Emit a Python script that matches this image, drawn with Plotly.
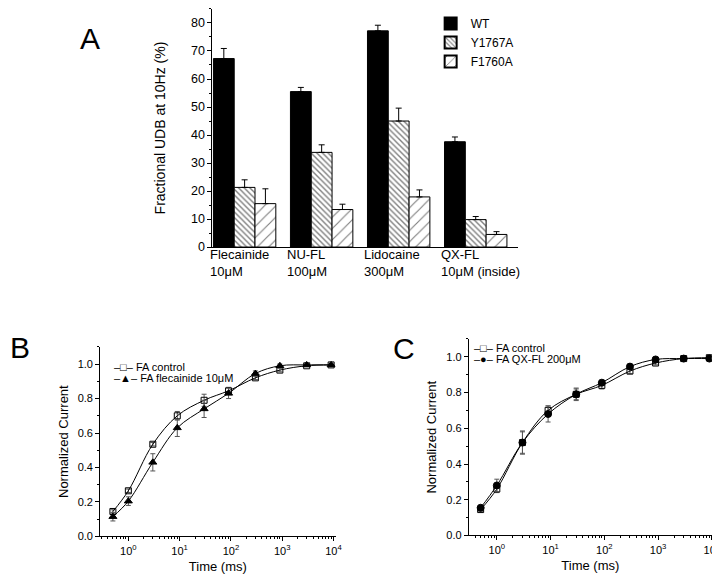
import plotly.graph_objects as go

FONT = "Arial, Liberation Sans, sans-serif"

# ---------------- Panel A data ----------------
drugs = ["Flecainide", "NU-FL", "Lidocaine", "QX-FL"]
drug_labels = ["Flecainide<br>10μM", "NU-FL<br>100μM", "Lidocaine<br>300μM", "QX-FL<br>10μM (inside)"]
wt = [67.3, 55.5, 77.2, 37.6]
wt_err = [3.6, 1.5, 2.0, 1.7]
y1767a = [21.3, 33.8, 45.0, 9.8]
y1767a_err = [2.7, 2.7, 4.6, 1.1]
f1760a = [15.5, 13.4, 17.9, 4.5]
f1760a_err = [5.3, 1.9, 2.5, 1.0]

# ---------------- Panel B/C data ----------------
time_ms = [0.5, 1, 3, 9, 30, 90, 300, 900, 3000, 9000]
b_control = [0.145, 0.265, 0.535, 0.70, 0.79, 0.845, 0.92, 0.965, 0.99, 0.995]
b_control_err = [0.01, 0.01, 0.01, 0.025, 0.035, 0.02, 0.01, 0.01, 0.005, 0.005]
b_flec = [0.115, 0.205, 0.43, 0.63, 0.74, 0.83, 0.945, 0.99, 0.995, 0.995]
b_flec_err = [0.025, 0.025, 0.05, 0.05, 0.05, 0.03, 0.015, 0.01, 0.01, 0.01]
c_control = [0.145, 0.26, 0.52, 0.70, 0.79, 0.84, 0.92, 0.965, 0.99, 0.995]
c_control_err = [0.012, 0.02, 0.065, 0.025, 0.035, 0.02, 0.015, 0.01, 0.005, 0.01]
c_qx = [0.155, 0.28, 0.52, 0.68, 0.79, 0.855, 0.945, 0.985, 0.99, 0.99]
c_qx_err = [0.012, 0.035, 0.06, 0.045, 0.03, 0.015, 0.015, 0.008, 0.005, 0.008]

log_tickvals = [1, 10, 100, 1000, 10000]
log_ticktext = ["10<sup>0</sup>", "10<sup>1</sup>", "10<sup>2</sup>", "10<sup>3</sup>", "10<sup>4</sup>"]

legend_b = ["–□– FA control", "–▲– FA flecainide 10μM"]
legend_c = ["–□– FA control", "–●– FA QX-FL 200μM"]

fig = go.Figure()

def bar(name, vals, errs, color, pattern=None):
    kw = dict(
        name=name, x=drugs, y=vals, xaxis="x", yaxis="y", legend="legend",
        marker=dict(color=color, line=dict(color="black", width=1)),
        error_y=dict(type="data", symmetric=False, array=errs,
                     arrayminus=[0] * len(errs), color="black", thickness=1, width=3),
    )
    if pattern:
        kw["marker"]["pattern"] = pattern
    fig.add_trace(go.Bar(**kw))

bar("WT", wt, wt_err, "black")
bar("Y1767A", y1767a, y1767a_err, "white",
    dict(shape="\\", fgcolor="black", bgcolor="white", size=4, solidity=0.35))
bar("F1760A", f1760a, f1760a_err, "white",
    dict(shape="/", fgcolor="black", bgcolor="white", size=8, solidity=0.14))

def curve(name, y, err, symbol, xa, ya):
    fig.add_trace(go.Scatter(
        name=name, x=time_ms, y=y, xaxis=xa, yaxis=ya, showlegend=False,
        mode="lines+markers",
        line=dict(color="black", width=1, shape="spline", smoothing=1),
        marker=dict(symbol=symbol, size=6 if "square" in symbol else 7, color="black",
                    line=dict(color="black", width=1)),
        error_y=dict(type="data", array=err, color="#555555", thickness=1, width=2.5),
    ))

curve("FA control", b_control, b_control_err, "square-open", "x2", "y2")
curve("FA flecainide 10μM", b_flec, b_flec_err, "triangle-up", "x2", "y2")
curve("FA control", c_control, c_control_err, "square-open", "x3", "y3")
curve("FA QX-FL 200μM", c_qx, c_qx_err, "circle", "x3", "y3")

minor_log = [m * 10 ** e for e in range(-1, 4) for m in range(2, 10)]

axis_common = dict(showline=True, linecolor="black", linewidth=1, ticks="outside",
                   tickcolor="black", showgrid=False, zeroline=False, mirror=False,
                   tickfont=dict(family=FONT, size=11, color="black"))

fig.update_layout(
    width=720, height=574,
    margin=dict(l=0, r=0, t=0, b=0),
    paper_bgcolor="white", plot_bgcolor="white",
    font=dict(family=FONT, color="black"),
    barmode="group", bargap=0.19, bargroupgap=0,
    showlegend=True,
    xaxis=dict(domain=[207 / 720, 516 / 720], anchor="y", type="category",
               range=[-0.418, 3.543], showline=True, linecolor="black", linewidth=1,
               showticklabels=False, ticks="", showgrid=False, zeroline=False),
    yaxis=dict(domain=[1 - 242 / 574, 1 - 1 / 574], anchor="x", range=[0, 85],
               tickvals=[0, 10, 20, 30, 40, 50, 60, 70, 80], ticklen=4,
               minor=dict(tickvals=[5, 15, 25, 35, 45, 55, 65, 75, 85], ticklen=2,
                          ticks="outside", tickcolor="black"),
               title=dict(text="Fractional UDB at 10Hz (%)",
                          font=dict(family=FONT, size=14, color="black"), standoff=22),
               **{**axis_common, "tickfont": dict(family=FONT, size=12.5, color="black")}),
    xaxis2=dict(domain=[93.3 / 720, 331.7 / 720], anchor="y2", type="log",
                range=[-0.55, 4.04], tickvals=log_tickvals, ticktext=log_ticktext, ticklen=4,
                minor=dict(tickvals=minor_log, ticklen=2, ticks="outside", tickcolor="black"),
                title=dict(text="Time (ms)", font=dict(family=FONT, size=13, color="black"),
                           standoff=6),
                **axis_common),
    yaxis2=dict(domain=[1 - 535 / 574, 1 - 343 / 574], anchor="x2", range=[0, 1.1],
                tickvals=[0, 0.2, 0.4, 0.6, 0.8, 1.0], tickformat=".1f", ticklen=4,
                minor=dict(tickvals=[0.1, 0.3, 0.5, 0.7, 0.9, 1.1], ticklen=2,
                           ticks="outside", tickcolor="black"),
                title=dict(text="Normalized Current",
                           font=dict(family=FONT, size=13, color="black"), standoff=6),
                **axis_common),
    xaxis3=dict(domain=[466.7 / 720, 712.7 / 720], anchor="y3", type="log",
                range=[-0.52, 4.0], tickvals=log_tickvals, ticktext=log_ticktext, ticklen=4,
                minor=dict(tickvals=minor_log, ticklen=2, ticks="outside", tickcolor="black"),
                title=dict(text="Time (ms)", font=dict(family=FONT, size=13, color="black"),
                           standoff=6),
                **axis_common),
    yaxis3=dict(domain=[1 - 534 / 574, 1 - 335 / 574], anchor="x3", range=[0, 1.1],
                tickvals=[0, 0.2, 0.4, 0.6, 0.8, 1.0], tickformat=".1f", ticklen=4,
                minor=dict(tickvals=[0.1, 0.3, 0.5, 0.7, 0.9, 1.1], ticklen=2,
                           ticks="outside", tickcolor="black"),
                title=dict(text="Normalized Current",
                           font=dict(family=FONT, size=13, color="black"), standoff=6),
                **axis_common),
    legend=dict(x=428 / 720, y=1 - 1 / 574, xanchor="left", yanchor="top",
                bgcolor="rgba(0,0,0,0)", font=dict(family=FONT, size=12, color="black"),
                tracegroupgap=0, itemsizing="constant"),
)

# Category labels of panel A (left aligned under each group)
for d, lab in zip(drugs, drug_labels):
    fig.add_annotation(x=d, y=0, xref="x", yref="y", text=lab, showarrow=False,
                       xanchor="left", yanchor="top", align="left", xshift=-37, yshift=2,
                       font=dict(family=FONT, size=13, color="black"))

# Legends of panels B and C, drawn as text lines
for i, t in enumerate(legend_b):
    fig.add_annotation(x=105 / 720, y=1 - (363 + 12 * i) / 574, xref="paper", yref="paper",
                       text=t, showarrow=False, xanchor="left", yanchor="middle",
                       font=dict(family=FONT, size=11, color="black"))
for i, t in enumerate(legend_c):
    fig.add_annotation(x=470 / 720, y=1 - (344 + 11.5 * i) / 574, xref="paper", yref="paper",
                       text=t, showarrow=False, xanchor="left", yanchor="middle",
                       font=dict(family=FONT, size=11, color="black"))

# Panel letters
for letter, px, py in [("A", 83, 31), ("B", 12, 344), ("C", 401, 345)]:
    fig.add_annotation(x=px / 720, y=1 - py / 574, xref="paper", yref="paper", text=letter,
                       showarrow=False, xanchor="center", yanchor="middle",
                       font=dict(family=FONT, size=30, color="black"))

fig.write_html("out.html")
